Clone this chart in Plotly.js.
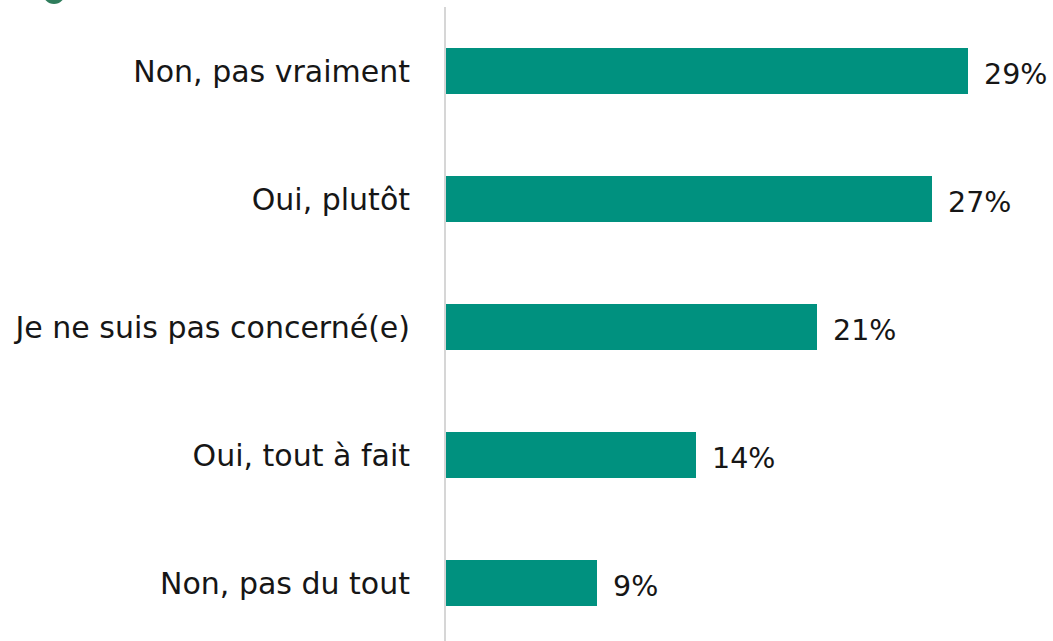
<!DOCTYPE html>
<html>
<head>
<meta charset="utf-8">
<script src="https://cdn.plot.ly/plotly-3.0.1.min.js"></script>
<style>html,body{margin:0;padding:0;background:#fff;}#chart{width:1053px;height:641px;}</style>
</head>
<body>
<div id="chart"></div>
<script>
const categories = ["Non, pas vraiment", "Oui, plutôt", "Je ne suis pas concerné(e)", "Oui, tout à fait", "Non, pas du tout"];
const values = [29.0, 27.0, 20.6, 13.9, 8.4];
const valueLabels = ["29%", "27%", "21%", "14%", "9%"];

const barColor = "#00917f";
const textColor = "#161616";
const fontFamily = "'DejaVu Sans', sans-serif";

const trace = {
  type: "bar",
  orientation: "h",
  x: values,
  y: categories,
  marker: { color: barColor },
  width: 0.36,
  hoverinfo: "none"
};

const annotations = categories.map((c, i) => ({
  x: values[i],
  y: c,
  xref: "x",
  yref: "y",
  text: valueLabels[i],
  showarrow: false,
  xanchor: "left",
  yanchor: "middle",
  xshift: 14,
  yshift: -3,
  font: { family: fontFamily, size: 28.5, color: textColor }
}));

const layout = {
  width: 1053,
  height: 641,
  margin: { l: 446, r: 31, t: 7, b: 0, pad: 0 },
  paper_bgcolor: "#fff",
  plot_bgcolor: "#fff",
  showlegend: false,
  bargap: 0,
  xaxis: {
    range: [0, 32],
    showgrid: false,
    zeroline: false,
    showline: false,
    showticklabels: false,
    ticks: ""
  },
  yaxis: {
    type: "category",
    categoryorder: "array",
    categoryarray: categories,
    range: [4.453, -0.5],
    showgrid: false,
    zeroline: false,
    showline: true,
    linecolor: "#d6d6d6",
    linewidth: 2,
    ticks: "",
    ticklabelstandoff: 28,
    tickfont: { family: fontFamily, size: 30, color: textColor }
  },
  annotations: annotations,
  shapes: [
    { type: "circle", xref: "paper", yref: "paper",
      x0: (43 - 446) / 576, x1: (65 - 446) / 576,
      y0: 1 + 3 / 634, y1: 1 + 25 / 634,
      fillcolor: "#2f7d5c", line: { width: 0 } }
  ]
};

Plotly.newPlot("chart", [trace], layout, { displayModeBar: false, staticPlot: true });
</script>
</body>
</html>
